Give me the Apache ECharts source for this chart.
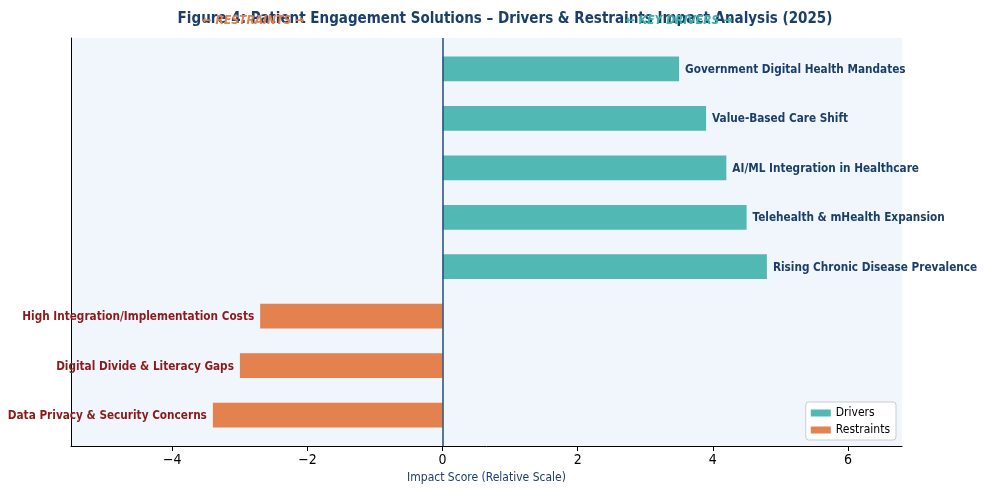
<!DOCTYPE html>
<html><head><meta charset="utf-8">
<script src="https://cdn.jsdelivr.net/npm/echarts@6/dist/echarts.min.js"></script>
<style>html,body{margin:0;padding:0;background:#fff}#c{width:984px;height:492px}</style>
</head><body><div id="c"></div>
<script>
const driverNames = ['Government Digital Health Mandates','Value-Based Care Shift','AI/ML Integration in Healthcare','Telehealth & mHealth Expansion','Rising Chronic Disease Prevalence'];
const driverValues = [3.5, 3.9, 4.2, 4.5, 4.8];
const driverPos = [7, 6, 5, 4, 3];
const restraintNames = ['High Integration/Implementation Costs','Digital Divide & Literacy Gaps','Data Privacy & Security Concerns'];
const restraintValues = [-2.7, -3.0, -3.4];
const restraintPos = [2, 1, 0];
const xTicks = [-4, -2, 0, 2, 4, 6];

const FONT = '"DejaVu Sans Condensed", "DejaVu Sans"';
const chart = echarts.init(document.getElementById('c'));

function renderBar(color, textColor){
  return function(params, api){
    const v = api.value(0), y = api.value(1);
    const s = api.coord([0, y]);
    const e = api.coord([v, y]);
    const h = api.size([0, 0.5])[1];
    const x0 = Math.min(s[0], e[0]);
    const w = Math.abs(e[0]-s[0]);
    const pos = v >= 0;
    const name = api.value(2);
    return {type:'group', children:[
      {type:'rect', shape:{x:x0, y:s[1]-h/2, width:w, height:h}, style:{fill:color}},
      {type:'text', x: pos ? e[0]+6 : e[0]-6, y: s[1]+1, style:{text: name, fill:textColor, font:'bold 11.7px ' + FONT, align: pos?'left':'right', verticalAlign:'middle'}}
    ]};
  };
}
function mk3(names, vals, pos){ return vals.map((v,i)=>[v,pos[i],names[i]]); }

const option = {
  animation:false,
  title:{text:'Figure 4: Patient Engagement Solutions – Drivers & Restraints Impact Analysis (2025)', left:500, textAlign:'center', top:7, z:1,
    textStyle:{fontFamily:FONT, fontSize:15, fontWeight:'bold', color:'#1a3f6b'}},
  grid:{left:71, right:82, top:38, bottom:46, show:true, backgroundColor:'#f0f6fb', borderWidth:0},
  legend:{right:88, bottom:52, orient:'vertical', icon:'rect', itemWidth:20, itemHeight:7, itemGap:5,
    backgroundColor:'#fff', borderColor:'#ccc', borderWidth:1, borderRadius:3, padding:[5,6,4,5],
    textStyle:{fontFamily:FONT, fontSize:12, color:'#000'}, data:['Drivers','Restraints']},
  xAxis:{type:'value', min:-5.5, max:6.8, name:'Impact Score (Relative Scale)', nameLocation:'middle', nameGap:26,
    nameTextStyle:{fontFamily:FONT, fontSize:12, color:'#1a3f6b'},
    axisLine:{onZero:false, lineStyle:{color:'#000', width:1}},
    axisTick:{show:true, length:5, lineStyle:{color:'#000'}, customValues:xTicks},
    axisLabel:{fontFamily:FONT, fontSize:14, color:'#000', margin:7, customValues:xTicks, formatter:v=>String(v).replace('-','\u2212')},
    splitLine:{show:false}},
  yAxis:{type:'value', min:-0.625, max:7.625, axisLine:{show:true, onZero:false, lineStyle:{color:'#000', width:1}}, axisTick:{show:false}, axisLabel:{show:false}, splitLine:{show:false}},
  series:[
    {name:'Drivers', type:'custom', itemStyle:{color:'#52b8b3'}, renderItem:renderBar('#52b8b3','#1a3f6b'), encode:{x:0,y:1}, data:mk3(driverNames, driverValues, driverPos),
      markLine:{silent:true, symbol:'none', label:{show:false}, lineStyle:{color:'#1f4e79', width:1.5, type:'solid'}, data:[{xAxis:0}]}},
    {name:'Restraints', type:'custom', itemStyle:{color:'#e3814f'}, renderItem:renderBar('#e3814f','#8b1a1a'), encode:{x:0,y:1}, data:mk3(restraintNames, restraintValues, restraintPos)}
  ]
};
chart.setOption(option);
const pr = chart.convertToPixel({gridIndex:0}, [-2.8, 8]);
const pd = chart.convertToPixel({gridIndex:0}, [3.5, 8]);
chart.setOption({graphic:[
  {type:'text', x:pr[0], y:21, z:100, style:{text:'\u2190 RESTRAINTS \u2192', fill:'#e3814f', font:'italic bold 12px ' + FONT, align:'center', verticalAlign:'middle'}},
  {type:'text', x:pd[0], y:21, z:100, style:{text:'\u2190 KEY DRIVERS \u2192', fill:'#3fb0aa', font:'italic bold 12px ' + FONT, align:'center', verticalAlign:'middle'}}
]});
</script></body></html>
